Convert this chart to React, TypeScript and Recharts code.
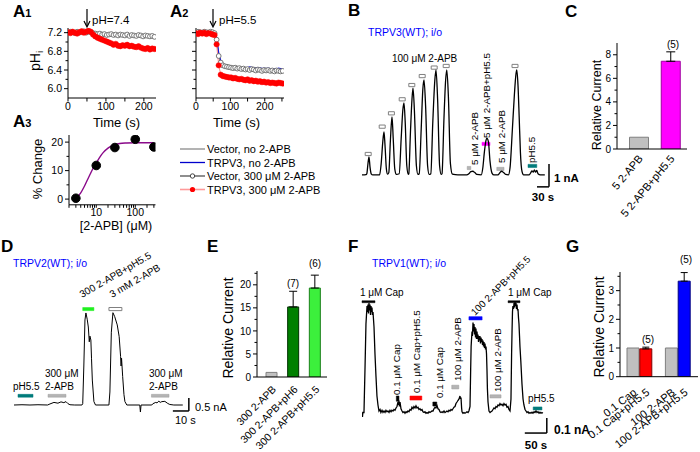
import React from 'react';
import { LineChart, Line, XAxis, YAxis, ReferenceArea, ReferenceLine, BarChart, Bar, ErrorBar, Cell } from 'recharts';

const FONT = '"Liberation Sans", Arial, Helvetica, sans-serif';

// ---------------- A1 (pH 7.4) ----------------
const a1Time = [0,6,12,18,24,30,36,42,48,54,60,66,72,78,84,90,96,102,108,114,120,126,132,138,144,150,156,162,168,174,180,186,192,198,204,210,216,222,228];
const a1Trpv3Apb = [7.21,7.19,7.22,7.20,7.18,7.21,7.23,7.20,7.22,7.24,7.22,7.16,7.12,7.09,7.07,7.05,7.03,7.01,6.99,6.97,6.94,6.96,6.92,6.91,6.93,6.92,6.94,6.91,6.92,6.90,6.89,6.91,6.88,6.86,6.85,6.87,6.84,6.86,6.85];
const a1VectorApb = [7.20,7.22,7.21,7.19,7.22,7.20,7.21,7.23,7.20,7.22,7.21,7.19,7.18,7.17,7.18,7.16,7.17,7.15,7.16,7.17,7.15,7.16,7.14,7.16,7.15,7.14,7.16,7.13,7.15,7.14,7.13,7.15,7.14,7.12,7.14,7.13,7.12,7.13,7.11];
const a1VectorNo = [7.21,7.20,7.21,7.20,7.21,7.20,7.21,7.21,7.20,7.21,7.20,7.19,7.18,7.18,7.17,7.17,7.16,7.16,7.16,7.15,7.15,7.15,7.15,7.14,7.14,7.14,7.14,7.14,7.13,7.13,7.13,7.13,7.13,7.12,7.12,7.12,7.12,7.12,7.12];
const a1Trpv3No = [7.20,7.21,7.20,7.21,7.20,7.21,7.20,7.20,7.21,7.20,7.20,7.19,7.18,7.17,7.17,7.16,7.16,7.15,7.15,7.15,7.14,7.14,7.14,7.14,7.13,7.13,7.13,7.13,7.13,7.12,7.12,7.12,7.12,7.11,7.11,7.11,7.11,7.11,7.11];

// ---------------- A2 (pH 5.5) ----------------
const a2Time = [0,6,12,18,24,30,36,42,48,54,60,66,72,78,84,90,96,102,108,114,120,126,132,138,144,150,156,162,168,174,180,186,192,198,204,210,216,222,228,234,240,246,252];
const a2Trpv3Apb = [7.19,7.17,7.20,7.18,7.20,7.17,7.19,7.18,7.16,7.15,6.95,6.50,6.30,6.27,6.26,6.25,6.24,6.24,6.22,6.23,6.21,6.20,6.21,6.19,6.18,6.20,6.17,6.18,6.16,6.17,6.15,6.16,6.14,6.15,6.13,6.14,6.12,6.13,6.12,6.11,6.13,6.12,6.11];
const a2VectorApb = [7.20,7.22,7.21,7.20,7.22,7.21,7.20,7.22,7.21,7.19,7.05,6.70,6.56,6.50,6.48,6.47,6.46,6.45,6.44,6.45,6.43,6.44,6.42,6.43,6.41,6.42,6.40,6.42,6.41,6.39,6.41,6.40,6.38,6.40,6.39,6.40,6.38,6.39,6.37,6.39,6.38,6.37,6.38];
const a2VectorNo = [7.21,7.20,7.21,7.20,7.21,7.20,7.21,7.20,7.20,7.19,7.08,6.75,6.58,6.52,6.49,6.48,6.47,6.46,6.45,6.45,6.44,6.44,6.43,6.43,6.42,6.42,6.42,6.41,6.41,6.41,6.40,6.40,6.40,6.40,6.39,6.39,6.39,6.39,6.38,6.38,6.38,6.38,6.38];
const a2Trpv3No = [7.20,7.21,7.20,7.21,7.20,7.21,7.20,7.21,7.20,7.18,7.10,6.78,6.60,6.54,6.51,6.49,6.48,6.47,6.46,6.46,6.45,6.45,6.44,6.45,6.44,6.45,6.47,6.46,6.45,6.44,6.44,6.45,6.43,6.44,6.43,6.44,6.43,6.42,6.43,6.42,6.44,6.43,6.42];

// ---------------- A3 dose response ----------------
const a3Conc = [3, 10, 30, 100, 300];
const a3Change = [0.3, 11.8, 18.1, 21.0, 18.3];
const a3FitConc = [3,4,5,6,7,8,9,10,12,15,20,25,30,40,60,100,200,300];
const a3FitVal = [0.2,2.2,4.6,6.9,8.8,10.4,11.7,12.7,14.5,16.3,17.9,18.7,19.1,19.5,19.7,19.8,19.8,19.8];

// ---------------- B trace (s, nA) ----------------
const bTrace = [
  [0,0],[10,0.01],[12,0.05],[15,0.5],[17.5,0.78],[20,0.35],[23,0.05],[27,0],
  [44,0],[48,0.5],[52,1.45],[55,1.87],[57.5,1.3],[61,0.25],[64,0.03],
  [67,0.1],[71,1.5],[75,2.52],[78,1.6],[82,0.25],[86,0.02],
  [93,0.05],[98,1.6],[102,2.8],[105,3.13],[108,2.3],[112,0.4],[116,0.02],
  [117,0.05],[121,1.8],[125,3.3],[127.5,3.78],[131,2.8],[136,0.4],[140,0.02],
  [143,0.05],[148,2.0],[152,3.7],[155,4.13],[159,3.0],[164,0.4],[168,0.02],
  [172,0.05],[177,2.3],[182,4.1],[185,4.57],[189,3.3],[194,0.4],[198,0.02],
  [200,0.05],[205,2.5],[209,4.1],[212,4.57],[216,3.4],[221,0.5],[226,0.03],
  [240,0],[262,0],[267,0.05],[272,0.14],[277,0.16],[282,0.1],[287,0.02],[298,0],
  [302,0.3],[306,1.0],[310,1.5],[312,1.6],[316,1.45],[320,0.6],[325,0.08],[330,0],
  [340,0],[344,0.08],[349,0.16],[354,0.1],[359,0.02],[366,0],
  [370,0.3],[376,2.0],[381,3.5],[385,4.4],[387,4.57],[390,3.9],[393,2.5],[396,1.0],[400,0.15],[404,0],
  [418,0],[422,0.1],[425,0.18],[428,0.12],[431,0.22],[434,0.12],[437,0.2],[440,0.05],[446,0],[457,0]
];
const bApps = [
  { t1: 8, t2: 23, y1: 0.84, y2: 0.98, k: 'open' },
  { t1: 43, t2: 58, y1: 2.03, y2: 2.17, k: 'open' },
  { t1: 66, t2: 81, y1: 2.61, y2: 2.75, k: 'open' },
  { t1: 93, t2: 108, y1: 3.22, y2: 3.36, k: 'open' },
  { t1: 117, t2: 132, y1: 3.84, y2: 3.98, k: 'open' },
  { t1: 143, t2: 158, y1: 4.23, y2: 4.37, k: 'open' },
  { t1: 173, t2: 188, y1: 4.6, y2: 4.74, k: 'open' },
  { t1: 203, t2: 218, y1: 4.67, y2: 4.81, k: 'open' },
  { t1: 263, t2: 272, y1: 0.23, y2: 0.37, k: 'gray' },
  { t1: 300, t2: 320, y1: 1.28, y2: 1.42, k: 'magenta' },
  { t1: 337, t2: 355, y1: 0.19, y2: 0.33, k: 'gray' },
  { t1: 375, t2: 390, y1: 4.67, y2: 4.81, k: 'open' },
  { t1: 415, t2: 437, y1: 0.32, y2: 0.46, k: 'teal' }
];

// ---------------- C bars ----------------
const cLabels = ['5 2-APB', '5 2-APB+pH5.5'];
const cMeans = [1, 7.45];
const cSem = [0, 0.8];

// ---------------- D trace ----------------
const dTrace = [
  [0,0],[5,0.01],[10,0],[15,0.01],[21,0],[22.5,0.04],[25,0.1],[27.5,0.07],[29.4,0.12],[31.2,0.09],[32.5,0.13],[33.8,0.05],[35,0.01],[38,0],[42.5,0],
  [43,0.05],[43.7,1.5],[44.4,3.27],[45,3.54],[45.8,3.3],[46.5,3.0],[47.1,2.43],[47.5,2.65],[48.1,2.5],[48.5,1.8],[49,0.96],[50,0.13],[51,0],
  [59.4,0],[60,0.5],[60.9,2.8],[61.9,3.55],[63,3.4],[64.6,3.08],[65.8,2.63],[66.7,1.86],[67,1.5],[67.3,1.8],[68,1.09],[68.8,0.4],[69.4,0.13],[70.6,0],
  [78.7,0],[79.1,-0.27],[79.5,0],[86.2,0],[86.9,0.05],[88.7,0.1],[89.5,0.08],[90.6,0.15],[91.5,0.1],[92.5,0.13],[94.4,0.14],[96.2,0.06],[97.5,0.02],[100,0],[105.6,0]
];
const dApps = [
  { t1: 2.5, t2: 11.9, y1: 0.3, y2: 0.41, k: 'teal' },
  { t1: 21.3, t2: 32.5, y1: 0.3, y2: 0.41, k: 'gray' },
  { t1: 43, t2: 50, y1: 3.63, y2: 3.75, k: 'green' },
  { t1: 59.4, t2: 67.5, y1: 3.63, y2: 3.75, k: 'open' },
  { t1: 86, t2: 97, y1: 0.3, y2: 0.41, k: 'gray' }
];

// ---------------- E bars ----------------
const eLabels = ['300 2-APB', '300 2-APB+pH6', '300 2-APB+pH5.5'];
const eMeans = [1, 15.2, 19.3];
const eSem = [0, 3.4, 2.8];

// ---------------- F trace ----------------
const fTrace = [
  [0,0.01],[1,-0.02],[2,0.01],[4.5,0.01],[6.8,0.3],[9,0.6],[11.4,0.72],[12.5,0.68],[13.6,0.73],[14.7,0.67],[15.9,0.74],[17,0.69],[18.2,0.73],[19.3,0.66],[20.5,0.72],[21.6,0.68],[22.7,0.71],[23.8,0.66],[25,0.68],[27.3,0.58],[29.5,0.4],[31.8,0.25],[34,0.12],[36.3,0.06],[38.6,0.02],
  [41,0.03],[43,0.01],[45.5,0.025],[47.7,0.01],[50,0.02],[52.3,0.01],[54.5,0.025],[56.8,0.015],[59,0.02],[61.4,0.01],[63.6,0.025],[66,0.015],[68,0.025],[70.5,0.02],[72.7,0.03],[75,0.025],[77.3,0.04],[79.5,0.05],[81.8,0.08],[83,0.06],[84,0.09],[85,0.05],[86.4,0.08],[88.6,0.035],[91,0.02],[93,0.01],[95.5,0.015],[97.7,0.005],[100,0.015],[102,0.01],[104.5,0.02],[106.8,0.015],
  [109,0.03],[111.4,0.025],[113.6,0.045],[115.9,0.035],[118,0.05],[120.5,0.04],[122.7,0.055],[125,0.04],[127.3,0.045],[129.5,0.03],[131.8,0.035],[134,0.025],[136.4,0.03],[138.6,0.015],[141,0.01],[143,0.015],[145.5,0.005],[147.7,0.01],[150,0.005],[152.3,0.015],[154.5,0.01],[156.8,0.015],[159,0.02],
  [161.4,0.02],[163.6,0.035],[166,0.045],[168,0.04],[170.5,0.055],[172.7,0.035],[175,0.03],[177.3,0.015],[179.5,0.01],[182,0.015],[184,0.01],[186.4,0.02],[188.6,0.01],[191,0.015],[193,0.02],[195.5,0.015],[197.7,0.025],[200,0.02],[202.3,0.03],[204.5,0.025],[206.8,0.035],[209,0.045],[211.4,0.05],[213.6,0.07],[215.9,0.08],[218,0.09],[220.5,0.1],[222.7,0.12],[224,0.1],[225,0.11],[226.4,0.04],[227.3,0.015],[229.5,0.005],[231.8,0.01],[234,0.005],[236.4,0.01],[238.6,0.015],[241,0.01],[243,0.02],
  [245.5,0.05],[247,0.3],[248,0.45],[250,0.55],[251,0.52],[252.3,0.61],[253.4,0.55],[254.5,0.6],[255.7,0.53],[256.8,0.58],[258,0.51],[259,0.57],[260.2,0.5],[261.4,0.55],[262.5,0.5],[263.6,0.53],[264.8,0.48],[266,0.52],[267,0.49],[268,0.52],[269.3,0.47],[270.5,0.51],[271.6,0.48],[272.7,0.5],[273.9,0.46],[275,0.49],[276.1,0.45],[277.3,0.48],[278.4,0.44],[279.5,0.47],[280.7,0.43],[281.8,0.45],[283,0.4],[284,0.3],[285,0.17],[286.4,0.08],[288.6,0.02],
  [291,0.01],[293,0.015],[295.5,0.02],[297.7,0.03],[300,0.04],[302.3,0.035],[304.5,0.05],[306.8,0.045],[309,0.06],[311.4,0.055],[313.6,0.07],[315.9,0.06],[318,0.065],[320.5,0.055],[322.7,0.07],[325,0.06],[327.3,0.065],[329.5,0.045],[331.8,0.05],[334,0.03],[336.4,0.02],
  [338.6,0.1],[340,0.4],[341,0.55],[342,0.68],[343,0.72],[344.3,0.7],[345.5,0.74],[346.6,0.71],[347.7,0.75],[348.9,0.72],[350,0.74],[351.1,0.7],[352.3,0.73],[353.4,0.69],[354.5,0.7],[355.7,0.64],[356.8,0.6],[358,0.52],[359,0.45],[361,0.35],[363.6,0.2],[366,0.1],[368,0.06],[370.5,0.03],
  [372.7,0.02],[375,0.01],[377.3,0.015],[379.5,0.005],[381.8,0.01],[384,0.005],[386.4,0.012],[388.6,0.005],[391,0.015],[393,0.01],[395.5,0.02],[397.7,0.01],[400,0.015],[402.3,0.005],[404.5,0.012],[406.8,0.005],[409,0.01],[411,0.005]
];
const fApps = [
  { t1: 0, t2: 29.5, y1: 0.742, y2: 0.755, k: 'black' },
  { t1: 78, t2: 84, y1: 0.085, y2: 0.12, k: 'black' },
  { t1: 109, t2: 136, y1: 0.093, y2: 0.12, k: 'red' },
  { t1: 161, t2: 170, y1: 0.053, y2: 0.08, k: 'black' },
  { t1: 204, t2: 220, y1: 0.167, y2: 0.192, k: 'gray' },
  { t1: 243, t2: 273, y1: 0.627, y2: 0.649, k: 'blue' },
  { t1: 291, t2: 316, y1: 0.107, y2: 0.128, k: 'gray' },
  { t1: 332, t2: 359, y1: 0.742, y2: 0.755, k: 'black' },
  { t1: 389, t2: 409, y1: 0.027, y2: 0.047, k: 'teal' }
];

// ---------------- G bars ----------------
const gLabels = ['0.1 Cap', '0.1 Cap+pH5.5', 'gap', '100 2-APB', '100 2-APB+pH5.5'];
const gMeans = [1, 0.97, null, 1, 3.33];
const gSem = [0, 0.06, 0, 0, 0.3];

// ---------------- styles ----------------
const appStyle: Record<string, { fill: string; stroke: string }> = {
  open: { fill: '#ffffff', stroke: '#808080' },
  gray: { fill: '#b4b4b4', stroke: '#9a9a9a' },
  magenta: { fill: '#ff00ff', stroke: '#ff00ff' },
  teal: { fill: '#007b7b', stroke: '#007b7b' },
  green: { fill: '#1ff01f', stroke: '#1ff01f' },
  black: { fill: '#000000', stroke: '#000000' },
  red: { fill: '#ff0000', stroke: '#ff0000' },
  blue: { fill: '#0000ff', stroke: '#0000ff' }
};
const cFill = ['#c0c0c0', '#ff00ff'];
const cStroke = ['#808080', '#a000a0'];
const eFill = ['#c0c0c0', '#008000', '#3cf03c'];
const eStroke = ['#808080', '#003000', '#1a801a'];
const gFill = ['#c0c0c0', '#ff0000', '#ffffff', '#c0c0c0', '#0000ff'];
const gStroke = ['#808080', '#800000', '#ffffff', '#808080', '#000080'];

const zip = (ts: number[], vs: number[]) => ts.map((t, i) => ({ t, v: vs[i] }));
const pairs = (arr: number[][]) => arr.map(([t, v]) => ({ t, v }));
const NOM = { top: 0, right: 0, bottom: 0, left: 0 };

const makeYTick = (majors: number[], fmt: (v: number) => string, fs = 10.5) => (p: any) => {
  const v = Number(p.payload.value);
  const maj = majors.some((m) => Math.abs(m - v) < 1e-6);
  const len = maj ? 4 : 2.5;
  const label = maj ? fmt(v) : '';
  return (
    <g>
      <line x1={p.x} x2={p.x - len} y1={p.y} y2={p.y} stroke="#000" strokeWidth={1} />
      {label !== '' ? (
        <text x={p.x - len - 2} y={p.y} dy="0.36em" textAnchor="end" fontSize={fs} fontFamily={FONT} fill="#000">{label}</text>
      ) : null}
    </g>
  );
};
const makeRotTick = (angle: number, dx: number, dy: number, fs = 11) => (p: any) => {
  const label = String(p.payload.value);
  if (label === 'gap') return <g />;
  const x = p.x + dx;
  const y = p.y + dy;
  return (
    <text x={x} y={y} textAnchor="end" fontSize={fs} fontFamily={FONT} fill="#000" transform={`rotate(${angle} ${x} ${y})`}>{label}</text>
  );
};
const majorFmt = (majors: number[]) => (v: any) => (majors.some((m) => Math.abs(m - Number(v)) < 1e-6) ? String(v) : '');

const one = (v: number) => v.toFixed(1);
const intf = (v: number) => String(v);
const none = () => '';

const T = ({ x, y, s = 10, a = 'start', r = 0, c = '#000', w = 'normal', children }: any) => (
  <text x={x} y={y} fontSize={s} textAnchor={a} fill={c} fontWeight={w} fontFamily={FONT}
    transform={r ? `rotate(${r} ${x} ${y})` : undefined}>{children}</text>
);

const axisLine = { stroke: '#000', strokeWidth: 1 };
const tickText = { fontSize: 10.5, fill: '#000', fontFamily: FONT };

function PhPanel({ time, vNo, tNo, vApb, tApb, dom, xTicks, yLabels }: any) {
  return (
    <LineChart width={128} height={96} margin={NOM}>
      <XAxis type="number" dataKey="t" domain={dom} ticks={xTicks} interval={0} allowDataOverflow height={26}
        axisLine={axisLine} tickLine={{ stroke: '#000' }} tickSize={3.5} tickMargin={1} tick={tickText}
        tickFormatter={majorFmt([0, 100, 200])} />
      <YAxis type="number" domain={[5.8, 7.3]} ticks={[6.0, 6.2, 6.4, 6.6, 6.8, 7.0, 7.2]} interval={0} allowDataOverflow width={40}
        axisLine={axisLine} tickLine={false} tickSize={0} tickMargin={0} tick={makeYTick([6.0, 6.4, 6.8, 7.2], yLabels ? one : none)} />
      <Line data={zip(time, vNo)} dataKey="v" stroke="#9a9a9a" strokeWidth={1} dot={false} isAnimationActive={false} />
      <Line data={zip(time, vApb)} dataKey="v" stroke="#555" strokeWidth={0.8}
        dot={{ r: 2.4, fill: '#ffffff', stroke: '#6a6a6a', strokeWidth: 0.9 }} isAnimationActive={false} />
      <Line data={zip(time, tNo)} dataKey="v" stroke="#1010e0" strokeWidth={1.1} dot={false} isAnimationActive={false} />
      <Line data={zip(time, tApb)} dataKey="v" stroke="#ff8a8a" strokeWidth={1} dot={{ r: 2.7, fill: '#ff0000', stroke: '#ff0000', strokeWidth: 0.5 }} isAnimationActive={false} />
    </LineChart>
  );
}

function Trace({ data, apps, xDom, yDom, w, h, sw, type, scale }: any) {
  return (
    <LineChart width={w} height={h} margin={NOM}>
      <XAxis type="number" dataKey="t" domain={xDom} allowDataOverflow hide />
      <YAxis type="number" domain={yDom} allowDataOverflow hide />
      {apps.map((a: any, i: number) => (
        <ReferenceArea key={i} x1={a.t1} x2={a.t2} y1={a.y1} y2={a.y2} fill={appStyle[a.k].fill} fillOpacity={1}
          stroke={appStyle[a.k].stroke} strokeWidth={a.k === 'open' ? 1 : 0.5} ifOverflow="visible" />
      ))}
      <Line data={pairs(data)} dataKey="v" type={type} stroke="#000" strokeWidth={sw} dot={false} isAnimationActive={false} />
      <ReferenceLine segment={[{ x: scale[0], y: scale[2] }, { x: scale[0], y: scale[3] }]} stroke="#000" strokeWidth={1.5} ifOverflow="visible" />
      <ReferenceLine segment={[{ x: scale[1], y: scale[3] }, { x: scale[0], y: scale[3] }]} stroke="#000" strokeWidth={1.5} ifOverflow="visible" />
    </LineChart>
  );
}

export default function App() {
  const cData = cLabels.map((name, i) => ({ name, v: cMeans[i], e: cSem[i] ? [0, cSem[i]] : undefined }));
  const eData = eLabels.map((name, i) => ({ name, v: eMeans[i], e: eSem[i] ? [0, eSem[i]] : undefined }));
  const gData = gLabels.map((name, i) => ({ name, v: gMeans[i], e: gSem[i] ? [0, gSem[i]] : undefined }));

  return (
    <div style={{ position: 'absolute', left: 0, top: 0, width: 700, height: 452, background: '#fff', overflow: 'hidden', fontFamily: FONT }}>
      <style>{`.recharts-surface{overflow:visible}.recharts-wrapper{overflow:visible}`}</style>

      {/* A1 */}
      <div style={{ position: 'absolute', left: 28, top: 28.3 }}>
        <PhPanel time={a1Time} vNo={a1VectorNo} tNo={a1Trpv3No} vApb={a1VectorApb} tApb={a1Trpv3Apb} dom={[0, 232]} xTicks={[0, 50, 100, 150, 200]} yLabels />
      </div>
      {/* A2 */}
      <div style={{ position: 'absolute', left: 155.7, top: 28.3 }}>
        <PhPanel time={a2Time} vNo={a2VectorNo} tNo={a2Trpv3No} vApb={a2VectorApb} tApb={a2Trpv3Apb} dom={[0, 256]} xTicks={[0, 50, 100, 150, 200, 250]} yLabels={false} />
      </div>
      {/* A3 */}
      <div style={{ position: 'absolute', left: 28.7, top: 134.9 }}>
        <LineChart width={126.5} height={95.8} margin={NOM}>
          <XAxis type="number" dataKey="t" scale="log" domain={[2, 330]} allowDataOverflow height={26}
            ticks={[2, 3, 4, 5, 6, 7, 8, 9, 10, 20, 30, 40, 50, 60, 70, 80, 90, 100, 200, 300]} interval={0}
            axisLine={axisLine} tickLine={{ stroke: '#000' }} tickSize={3} tickMargin={1} tick={tickText}
            tickFormatter={majorFmt([10, 100])} />
          <YAxis type="number" domain={[-2, 22.5]} ticks={[0, 5, 10, 15, 20]} interval={0} allowDataOverflow width={40}
            axisLine={axisLine} tickLine={false} tickSize={0} tickMargin={0} tick={makeYTick([0, 10, 20], intf)} />
          <Line data={zip(a3FitConc, a3FitVal)} dataKey="v" type="monotone" stroke="#8a0a8a" strokeWidth={1.4} dot={false} isAnimationActive={false} />
          <Line data={zip(a3Conc, a3Change)} dataKey="v" stroke="none" dot={{ r: 4.3, fill: '#000', stroke: '#000' }} isAnimationActive={false} />
        </LineChart>
      </div>

      {/* B */}
      <div style={{ position: 'absolute', left: 362, top: 60 }}>
        <Trace data={bTrace} apps={bApps} xDom={[0, 475]} yDom={[-0.7, 5]} w={190} h={131} sw={1.3} type="monotone" scale={[467.5, 437.5, 0.48, -0.52]} />
      </div>

      {/* C */}
      <div style={{ position: 'absolute', left: 577, top: 43.25 }}>
        <BarChart width={120} height={186} data={cData} margin={{ top: 0, right: 10, bottom: 0, left: 0 }}>
          <XAxis dataKey="name" type="category" interval={0} padding={{ left: 6.5, right: 0 }} height={80}
            axisLine={axisLine} tickLine={false} tickSize={0} tickMargin={0} tick={makeRotTick(-50, 4, 10)} />
          <YAxis type="number" domain={[0, 9]} ticks={[0, 1, 2, 3, 4, 5, 6, 7, 8]} interval={0} allowDataOverflow width={40}
            axisLine={axisLine} tickLine={false} tickSize={0} tickMargin={0} tick={makeYTick([0, 2, 4, 6, 8], intf, 10)} />
          <Bar dataKey="v" barSize={19} isAnimationActive={false}>
            {cData.map((d, i) => <Cell key={i} fill={cFill[i]} stroke={cStroke[i]} strokeWidth={1} />)}
            <ErrorBar dataKey="e" width={4.5} stroke="#000" strokeWidth={1} direction="y" />
          </Bar>
        </BarChart>
      </div>

      {/* D */}
      <div style={{ position: 'absolute', left: 14, top: 301 }}>
        <Trace data={dTrace} apps={dApps} xDom={[0, 112]} yDom={[-0.5, 4]} w={179} h={117} sw={1} type="linear" scale={[109.4, 99.4, 0.27, -0.23]} />
      </div>

      {/* E */}
      <div style={{ position: 'absolute', left: 217, top: 271.2 }}>
        <BarChart width={120} height={180} data={eData} margin={{ top: 0, right: 10, bottom: 0, left: 0 }}>
          <XAxis dataKey="name" type="category" interval={0} padding={{ left: 4, right: 1 }} height={74}
            axisLine={axisLine} tickLine={false} tickSize={0} tickMargin={0} tick={makeRotTick(-45, 5, 13, 10.5)} />
          <YAxis type="number" domain={[0, 23]} ticks={[0, 2.5, 5, 7.5, 10, 12.5, 15, 17.5, 20, 22.5]} interval={0} allowDataOverflow width={40}
            axisLine={axisLine} tickLine={false} tickSize={0} tickMargin={0} tick={makeYTick([0, 5, 10, 15, 20], intf, 10)} />
          <Bar dataKey="v" barSize={11} isAnimationActive={false}>
            {eData.map((d, i) => <Cell key={i} fill={eFill[i]} stroke={eStroke[i]} strokeWidth={1} />)}
            <ErrorBar dataKey="e" width={4} stroke="#000" strokeWidth={1} direction="y" />
          </Bar>
        </BarChart>
      </div>

      {/* F */}
      <div style={{ position: 'absolute', left: 362, top: 294 }}>
        <Trace data={fTrace} apps={fApps} xDom={[0, 425]} yDom={[-0.15, 0.8]} w={187} h={142.5} sw={1.3} type="linear" scale={[420, 370, -0.027, -0.127]} />
      </div>

      {/* G */}
      <div style={{ position: 'absolute', left: 580, top: 272.3 }}>
        <BarChart width={120} height={178.7} data={gData} margin={{ top: 0, right: 2, bottom: 0, left: 0 }}>
          <XAxis dataKey="name" type="category" interval={0} padding={{ left: 7, right: 7 }} height={74}
            axisLine={axisLine} tickLine={false} tickSize={0} tickMargin={0} tick={makeRotTick(-38, 4, 17)} />
          <YAxis type="number" domain={[0, 3.65]} ticks={[0, 0.5, 1, 1.5, 2, 2.5, 3, 3.5]} interval={0} allowDataOverflow width={40}
            axisLine={axisLine} tickLine={false} tickSize={0} tickMargin={0} tick={makeYTick([0, 1, 2, 3], intf, 10)} />
          <Bar dataKey="v" barSize={12} isAnimationActive={false}>
            {gData.map((d, i) => <Cell key={i} fill={gFill[i]} stroke={gStroke[i]} strokeWidth={1} />)}
            <ErrorBar dataKey="e" width={3.5} stroke="#000" strokeWidth={1} direction="y" />
          </Bar>
        </BarChart>
      </div>

      {/* overlay text & annotations */}
      <svg width={700} height={452} style={{ position: 'absolute', left: 0, top: 0, pointerEvents: 'none' }}>
        {/* panel letters */}
        <T x={13} y={17} s={17} w="bold">A<tspan fontSize={11}>1</tspan></T>
        <T x={170} y={17} s={17} w="bold">A<tspan fontSize={11}>2</tspan></T>
        <T x={13} y={127} s={17} w="bold">A<tspan fontSize={11}>3</tspan></T>
        <T x={348} y={16} s={17} w="bold">B</T>
        <T x={565} y={17} s={17} w="bold">C</T>
        <T x={1} y={252} s={17} w="bold">D</T>
        <T x={207} y={252} s={17} w="bold">E</T>
        <T x={348} y={252} s={17} w="bold">F</T>
        <T x={566} y={252} s={17} w="bold">G</T>

        {/* A1/A2 */}
        <line x1={87} y1={9} x2={87} y2={26} stroke="#000" strokeWidth={1.2} />
        <path d="M84,21 L87,27 L90,21" fill="none" stroke="#000" strokeWidth={1.2} />
        <T x={92} y={24} s={11.5}>pH=7.4</T>
        <line x1={213} y1={9} x2={213} y2={26} stroke="#000" strokeWidth={1.2} />
        <path d="M210,21 L213,27 L216,21" fill="none" stroke="#000" strokeWidth={1.2} />
        <T x={219} y={24} s={11.5}>pH=5.5</T>
        <text x={39.5} y={61} fontSize={14} fontFamily={FONT} textAnchor="middle" transform="rotate(-90 39.5 61)">pH<tspan fontSize={9.5} dy={3}>i</tspan></text>
        <T x={116.5} y={127} s={13} a="middle">Time (s)</T>
        <T x={236.5} y={127} s={13} a="middle">Time (s)</T>
        <T x={42} y={169} s={13} a="middle" r={-90}>% Change</T>
        <T x={116} y={230} s={12.5} a="middle">[2-APB] (μM)</T>

        {/* legend */}
        <line x1={180} x2={205} y1={149} y2={149} stroke="#8a8a8a" strokeWidth={1.3} />
        <T x={207} y={153} s={11}>Vector, no 2-APB</T>
        <line x1={180} x2={205} y1={162.5} y2={162.5} stroke="#0000cc" strokeWidth={1.3} />
        <T x={207} y={166.5} s={11}>TRPV3, no 2-APB</T>
        <line x1={180} x2={205} y1={176} y2={176} stroke="#333" strokeWidth={1.1} />
        <circle cx={192.5} cy={176} r={2.2} fill="#fff" stroke="#333" strokeWidth={0.9} />
        <T x={207} y={180} s={11}>Vector, 300 μM 2-APB</T>
        <line x1={180} x2={205} y1={189.5} y2={189.5} stroke="#ff9a9a" strokeWidth={1.6} />
        <circle cx={192.5} cy={189.5} r={2.6} fill="#ff0000" />
        <T x={207} y={193.5} s={11}>TRPV3, 300 μM 2-APB</T>

        {/* B */}
        <T x={368} y={36} s={10.5} c="#0000ff">TRPV3(WT); i/o</T>
        <T x={392} y={62} s={10}>100 μM 2-APB</T>
        <T x={478} y={165} s={9.8} r={-90}>5 μM 2-APB</T>
        <T x={490} y={138} s={9.8} r={-90}>5 μM 2-APB+pH5.5</T>
        <T x={505} y={163} s={9.8} r={-90}>5 μM 2-APB</T>
        <T x={535} y={163} s={9.8} r={-90}>pH5.5</T>
        <T x={554} y={182} s={11.5} w="bold">1 nA</T>
        <T x={543} y={201} s={11.5} w="bold" a="middle">30 s</T>

        {/* C */}
        <T x={673} y={48} s={10} a="middle">(5)</T>
        <T x={601} y={105} s={12.5} a="middle" r={-90}>Relative Current</T>

        {/* D */}
        <T x={13} y={267} s={10.5} c="#0000ff">TRPV2(WT); i/o</T>
        <T x={13} y={390} s={10}>pH5.5</T>
        <T x={45} y={377} s={10}>300 μM</T>
        <T x={45} y={390} s={10}>2-APB</T>
        <T x={149} y={377} s={10}>300 μM</T>
        <T x={149} y={390} s={10}>2-APB</T>
        <T x={82} y={298} s={10} r={-30}>300 2-APB+pH5.5</T>
        <T x={112} y={298} s={10} r={-30}>3 mM 2-APB</T>
        <T x={195} y={411} s={11}>0.5 nA</T>
        <T x={175} y={424} s={11}>10 s</T>

        {/* E */}
        <T x={293} y={287} s={10} a="middle">(7)</T>
        <T x={315} y={267} s={10} a="middle">(6)</T>
        <T x={233} y={328} s={14} a="middle" r={-90}>Relative Current</T>

        {/* F */}
        <T x={372} y={267} s={10.5} c="#0000ff">TRPV1(WT); i/o</T>
        <T x={360} y={296} s={10}>1 μM Cap</T>
        <T x={400} y={395} s={9.8} r={-90}>0.1 μM Cap</T>
        <T x={420} y={393} s={9.8} r={-90}>0.1 μM Cap+pH5.5</T>
        <T x={443} y={398} s={9.8} r={-90}>0.1 μM Cap</T>
        <T x={461} y={381} s={9.8} r={-90}>100 μM 2-APB</T>
        <T x={501} y={392} s={9.8} r={-90}>100 μM 2-APB</T>
        <T x={475} y={316} s={9.8} r={-45}>100 2-APB+pH5.5</T>
        <T x={508} y={296} s={10}>1 μM Cap</T>
        <T x={528} y={402} s={10}>pH5.5</T>
        <T x={554} y={434} s={12} w="bold">0.1 nA</T>
        <T x={536} y={449} s={11.5} w="bold" a="middle">50 s</T>

        {/* G */}
        <T x={648} y={343} s={10} a="middle">(5)</T>
        <T x={686} y={263} s={10} a="middle">(5)</T>
        <T x={604} y={327} s={14} a="middle" r={-90}>Relative Current</T>
      </svg>
    </div>
  );
}
